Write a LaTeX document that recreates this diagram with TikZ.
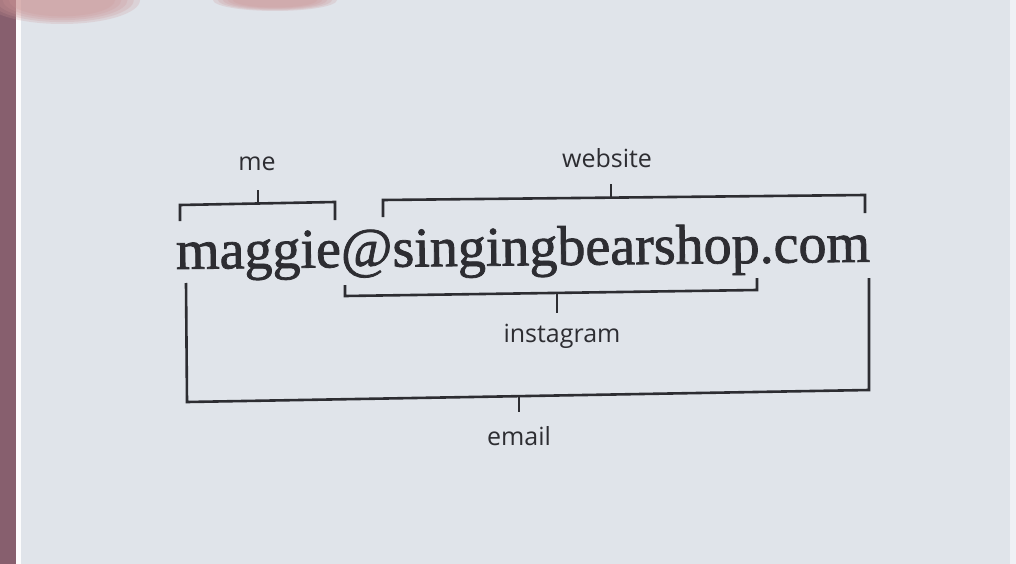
\documentclass[tikz,border=0pt]{standalone}
\usepackage{fontspec}
\setmainfont{Liberation Serif}
\newfontfamily\addrfont{Liberation Serif}[FakeBold=1.4]
\newfontfamily\handfont{Open Sans}
\definecolor{card}{RGB}{224,228,234}
\definecolor{ink}{RGB}{45,45,50}
\definecolor{skin}{RGB}{205,150,150}
\definecolor{edge}{RGB}{135,95,110}
\tikzset{
  bracket/.style={draw=ink, line width=2.6pt, line cap=butt, line join=miter},
  lab/.style={font=\handfont\fontsize{25}{25}\selectfont, text=ink, inner sep=0pt},
  blob/.style={fill=skin, opacity=0.22},
}
\begin{document}
\begin{tikzpicture}[x=1pt,y=-1pt]
\useasboundingbox (0,0) rectangle (1016,564);
% card and surroundings
\fill[card] (0,0) rectangle (1016,564);
\fill[edge] (0,0) rectangle (16,564);
\fill[white!90!card] (16,0) rectangle (21,564);
\foreach \s in {1.0,0.92,0.84,0.76,0.68} {
  \fill[blob] (62,0) ellipse ({78*\s} and {24*\s});
  \fill[blob] (275,0) ellipse ({62*\s} and {11*\s});
}
\fill[white!50!card] (1010,0) rectangle (1016,564);
% main address
\node[anchor=base west, inner sep=0pt, text=ink, rotate=0.6] (addr) at (176,269)
  {\resizebox{694pt}{!}{\addrfont\fontsize{54}{54}\selectfont maggie@singingbearshop.com}};
% labels
\node[lab] (me) at (257,164) {me};
\node[lab] (web) at (607,158) {website};
\node[lab] (insta) at (562,336) {instagram};
\node[lab] (email) at (519,436) {email};
% brackets
\draw[bracket] (180,221) -- (180,205) -- (335,202) -- (335,220);
\coordinate (meT) at (258,203); \coordinate (meE) at (258,190);
\draw[bracket] (meT) -- (meE);
\draw[bracket] (383,217) -- (383,200) -- (865,195) -- (865,213);
\coordinate (webT) at (611,197); \coordinate (webE) at (611,184);
\draw[bracket] (webT) -- (webE);
\draw[bracket] (345,285) -- (345,296) -- (757,290) -- (757,278);
\coordinate (instaT) at (557,293); \coordinate (instaE) at (557,313);
\draw[bracket] (instaT) -- (instaE);
\draw[bracket] (186,283) -- (187,402) -- (869,390) -- (869,278);
\coordinate (emailT) at (519,396); \coordinate (emailE) at (519,412);
\draw[bracket] (emailT) -- (emailE);
\end{tikzpicture}
\end{document}
